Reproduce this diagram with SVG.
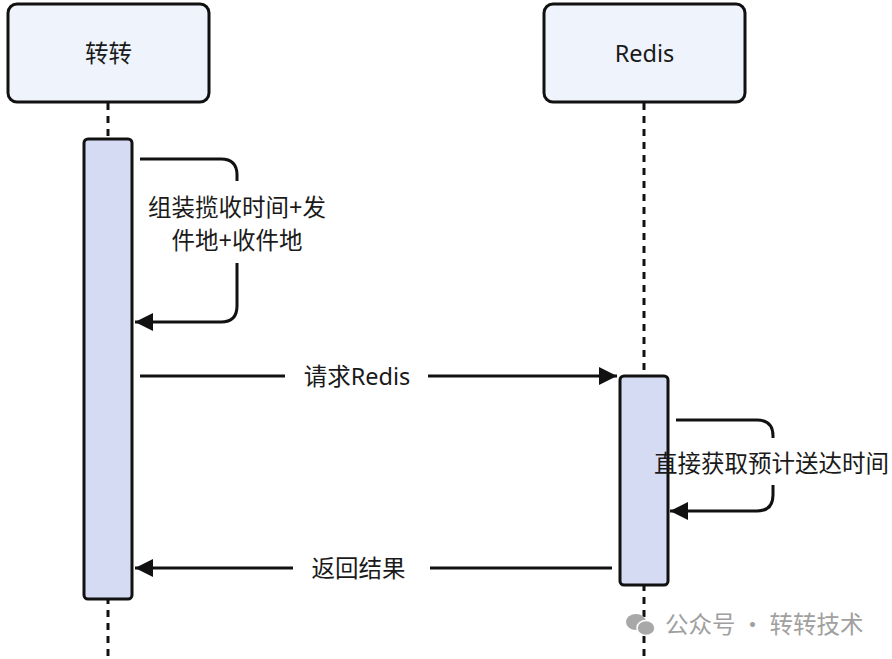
<svg xmlns="http://www.w3.org/2000/svg" width="892" height="659" viewBox="0 0 892 659">
<style>
.actor{fill:#eef3fc;stroke:#111;stroke-width:3}
.act{fill:#d6dbf4;stroke:#111;stroke-width:3}
.life{stroke:#111;stroke-width:3;stroke-dasharray:7 6;fill:none}
.msg{stroke:#111;stroke-width:3;fill:none}
.t{font-family:"Noto Sans","Noto Sans CJK SC",sans-serif;font-size:23.5px;fill:#1a1a1a;text-anchor:middle}
.wm{font-family:"Noto Sans CJK SC",sans-serif;font-size:23.5px;fill:#a0a0a0}
</style>
<defs>
<marker id="ah" markerWidth="20" markerHeight="20" refX="18" refY="9" orient="auto" markerUnits="userSpaceOnUse">
<path d="M0,0 L18,9 L0,18 Z" fill="#111"/>
</marker>
</defs>
<rect width="892" height="659" fill="#fff"/>
<g id="lifelines">
<line class="life" x1="108" y1="103" x2="108" y2="659"/>
<line class="life" x1="644" y1="103" x2="644" y2="659"/>
</g>
<g id="actor-zhuanzhuan">
<rect class="actor" x="8" y="4" width="201" height="98" rx="9"/>
<text class="t" x="108.5" y="62">转转</text>
</g>
<g id="actor-redis">
<rect class="actor" x="544" y="4" width="201" height="98" rx="9"/>
<text class="t" x="644.5" y="62">Redis</text>
</g>
<g id="activation-zhuanzhuan">
<rect class="act" x="84" y="139" width="48" height="460" rx="4"/>
</g>
<g id="activation-redis">
<rect class="act" x="620" y="376" width="48" height="209" rx="4"/>
</g>
<g id="connectors">
<path class="msg" d="M140,159 H221 Q237,159 237,175 V181"/>
<path class="msg" d="M237,263 V306 Q237,322 221,322 H135" marker-end="url(#ah)"/>
<text class="t" x="237" y="216">组装揽收时间+发</text>
<text class="t" x="237" y="249">件地+收件地</text>
<path class="msg" d="M140,376 H285"/>
<path class="msg" d="M428,376 H617" marker-end="url(#ah)"/>
<text class="t" x="357" y="385">请求Redis</text>
<path class="msg" d="M676,420 H757 Q773,420 773,436 V438"/>
<path class="msg" d="M773,485 V495 Q773,511 757,511 H670" marker-end="url(#ah)"/>
<text class="t" x="771.5" y="472">直接获取预计送达时间</text>
<path class="msg" d="M612,568 H430"/>
<path class="msg" d="M293,568 H135" marker-end="url(#ah)"/>
<text class="t" x="358.5" y="577">返回结果</text>
</g>
<g id="watermark">
<ellipse cx="636" cy="622" rx="10" ry="8" fill="#a8a8a8"/>
<ellipse cx="646" cy="628" rx="9" ry="7.5" fill="#a8a8a8" stroke="#fff" stroke-width="1.5"/>
<text class="wm" x="665" y="633">公众号 · 转转技术</text>
</g>
</svg>
